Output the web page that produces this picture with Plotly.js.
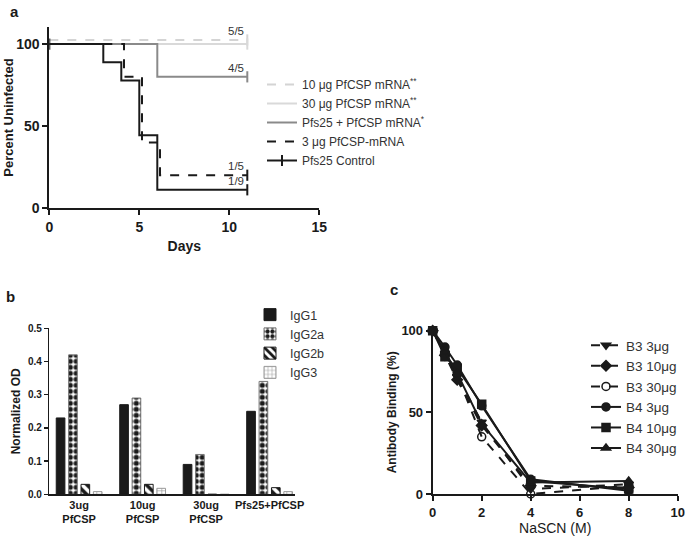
<!DOCTYPE html>
<html>
<head>
<meta charset="utf-8">
<script src="https://cdn.plot.ly/plotly-3.0.1.min.js"></script>
<style>
  html, body { margin: 0; padding: 0; background: #fff; }
  #fig { width: 685px; height: 538px; }
</style>
</head>
<body>
<div id="fig"></div>
<script>
// ---- panel a: survival curves (percent uninfected vs days)
const daysFlat = [0, 11];
const pct10ug = [102.5, 102.5];
const pct30ug = [100, 100];
const daysCombo = [0, 6, 11];
const pctCombo = [100, 80, 80];
const days3ug = [0, 4.15, 5.15, 6.15, 11];
const pct3ug = [100, 80, 40, 20, 20];
const daysCtrl = [0, 3, 4, 5, 6, 11];
const pctCtrl = [100, 88.9, 77.8, 44.4, 11.1, 11.1];
const fractionLabels = ["5/5", "4/5", "1/5", "1/9"];

// ---- panel b: IgG subclasses
const groups = ["3ug<br>PfCSP", "10ug<br>PfCSP", "30ug<br>PfCSP", "Pfs25+PfCSP"];
const igg1 = [0.23, 0.27, 0.09, 0.25];
const igg2a = [0.42, 0.29, 0.12, 0.34];
const igg2b = [0.03, 0.03, 0, 0.02];
const igg3 = [0.008, 0.018, 0, 0.008];

// ---- panel c: NaSCN avidity
const nascn = [0, 0.5, 1, 2, 4, 8];
const b3_3 = [100, 86, 72, 44, 3, 6];
const b3_10 = [100, 85, 70, 42, 5, 4];
const b3_30 = [100, 87, 73, 35, 0, 5];
const b4_3 = [100, 90, 79, 54, 9, 2];
const b4_10 = [100, 84, 77, 55, 8, 3];
const b4_30 = [100, 87, 74, 43, 7, 8];

const FONT = "Liberation Sans, Arial, sans-serif";
const INK = "#1a1a1a";
const CLEAR = "rgba(0,0,0,0)";

const last = (a) => a[a.length - 1];

function survival(x, y, name, color, dash) {
  return {
    x: x, y: y, name: name,
    xaxis: "x", yaxis: "y", legend: "legend",
    mode: "lines",
    line: { shape: "hv", color: color, width: 2, dash: dash },
  };
}

// censor ticks at the end of every curve
const curvesA = [
  [daysFlat, pct10ug, "#d4d4d4"],
  [daysFlat, pct30ug, "#d9d9d9"],
  [daysCombo, pctCombo, "#8a8a8a"],
  [days3ug, pct3ug, INK],
  [daysCtrl, pctCtrl, INK],
];

// control: tick only shows in the legend (first point sits on the y axis line)
const ctrlTickColors = daysCtrl.map((d, i) => (i === 0 ? INK : CLEAR));

const traceA = [
  survival(daysFlat, pct10ug, "10 μg PfCSP mRNA<sup>**</sup>", "#d4d4d4", "dash"),
  survival(daysFlat, pct30ug, "30 μg PfCSP mRNA<sup>**</sup>", "#d9d9d9", "solid"),
  survival(daysCombo, pctCombo, "Pfs25 + PfCSP mRNA<sup>*</sup>", "#8a8a8a", "solid"),
  survival(days3ug, pct3ug, "3 μg PfCSP-mRNA", INK, "dash"),
  Object.assign(survival(daysCtrl, pctCtrl, "Pfs25 Control", INK, "solid"), {
    mode: "lines+markers",
    marker: { symbol: "line-ns", size: 8, line: { color: ctrlTickColors, width: 2 } },
  }),
  {
    x: curvesA.map((c) => last(c[0])), y: curvesA.map((c) => last(c[1])),
    xaxis: "x", yaxis: "y", showlegend: false, mode: "markers", cliponaxis: false,
    marker: { symbol: "line-ns", size: 8, line: { color: curvesA.map((c) => c[2]), width: 2 } },
  },
];

function bar(y, name, pattern, lineColor) {
  return {
    type: "bar", x: groups, y: y, name: name,
    xaxis: "x2", yaxis: "y2", legend: "legend2",
    marker: { color: "white", pattern: pattern, line: { color: lineColor, width: 1 } },
  };
}

const traceB = [
  bar(igg1, "IgG1", { shape: "" }, INK),
  bar(igg2a, "IgG2a", { shape: ".", fgcolor: INK, bgcolor: "white", size: 6, solidity: 0.6 }, "#777"),
  bar(igg2b, "IgG2b", { shape: "\\", fgcolor: INK, bgcolor: "white", size: 7, solidity: 0.5 }, INK),
  bar(igg3, "IgG3", { shape: "+", fgcolor: "#999", bgcolor: "white", size: 5, solidity: 0.25 }, "#999"),
];
traceB[0].marker.color = INK;

function avidity(y, name, symbol, dash) {
  return {
    x: nascn, y: y, name: name,
    xaxis: "x3", yaxis: "y3", legend: "legend3",
    mode: "lines+markers",
    line: { color: INK, width: 2, dash: dash },
    marker: { symbol: symbol, size: 8, color: INK, line: { color: INK, width: 1.5 } },
    cliponaxis: false,
  };
}

const traceC = [
  avidity(b3_3, "B3 3μg", "triangle-down", "dash"),
  avidity(b3_10, "B3 10μg", "diamond", "dash"),
  avidity(b3_30, "B3 30μg", "circle-open", "dash"),
  avidity(b4_3, "B4 3μg", "circle", "solid"),
  avidity(b4_10, "B4 10μg", "square", "solid"),
  avidity(b4_30, "B4 30μg", "triangle-up", "solid"),
];

const axisBase = {
  showgrid: false, zeroline: false, showline: true,
  linecolor: INK, linewidth: 2, ticks: "outside", tickcolor: INK,
  ticklen: 5, tickwidth: 2,
};

const fracAnn = curvesA.filter((c, i) => i !== 1).map((c, i) => ({
  x: last(c[0]), y: last(c[1]), xref: "x", yref: "y", text: fractionLabels[i],
  showarrow: false, xanchor: "right", yanchor: "bottom", xshift: -1, yshift: 1,
  font: { size: 11.5, color: "#333" },
}));

const panelAnn = [["a", 14, 12], ["b", 10, 297], ["c", 394, 289]].map((p) => ({
  text: p[0], x: p[1] / 685, y: 1 - p[2] / 538, xref: "paper", yref: "paper",
  showarrow: false, xanchor: "center", yanchor: "middle",
  font: { size: 15, weight: "bold", color: INK },
}));

const layout = {
  width: 685, height: 538,
  margin: { l: 0, r: 0, t: 0, b: 0 },
  paper_bgcolor: "white", plot_bgcolor: "rgba(0,0,0,0)",
  font: { family: FONT, color: INK },
  barmode: "group", bargap: 0.22, bargroupgap: 0.3,
  xaxis: Object.assign({}, axisBase, {
    anchor: "y",
    domain: [49.3 / 685, 319.3 / 685], range: [0, 15], tickvals: [0, 5, 10, 15],
    tickfont: { size: 14, weight: "bold" },
    title: { text: "Days", font: { size: 14, weight: "bold" }, standoff: 7 },
  }),
  yaxis: Object.assign({}, axisBase, {
    anchor: "x",
    domain: [1 - 208 / 538, 1 - 27 / 538], range: [0, 110.4], tickvals: [0, 50, 100],
    tickfont: { size: 14, weight: "bold" },
    title: { text: "Percent Uninfected", font: { size: 13, weight: "bold" }, standoff: 0 },
  }),
  xaxis2: Object.assign({}, axisBase, {
    anchor: "y2",
    domain: [49.3 / 685, 295 / 685], range: [-0.47, 3.4], ticks: "", linewidth: 1.5,
    tickfont: { size: 11, weight: "bold" },
  }),
  yaxis2: Object.assign({}, axisBase, {
    anchor: "x2",
    domain: [1 - 494.3 / 538, 1 - 328.3 / 538], range: [0, 0.5], dtick: 0.1, tickformat: ".1f",
    linewidth: 1.5, tickwidth: 1.5, ticklen: 4,
    tickfont: { size: 10, weight: "bold" },
    title: { text: "Normalized OD", font: { size: 12, weight: "bold" }, standoff: 4 },
  }),
  xaxis3: Object.assign({}, axisBase, {
    anchor: "y3",
    domain: [432.7 / 685, 677.7 / 685], range: [0, 10], dtick: 2,
    tickfont: { size: 13, weight: "bold" },
    title: { text: "NaSCN (M)", font: { size: 14 }, standoff: 4 },
  }),
  yaxis3: Object.assign({}, axisBase, {
    anchor: "x3",
    domain: [1 - 494 / 538, 1 - 330.7 / 538], range: [0, 100], tickvals: [0, 50, 100],
    tickfont: { size: 13, weight: "bold" },
    title: { text: "Antibody Binding (%)", font: { size: 12, weight: "bold" }, standoff: 2 },
  }),
  legend: {
    x: 262 / 685, y: 1 - 70 / 538, xanchor: "left", yanchor: "top",
    font: { size: 12, color: "#333" }, bgcolor: "rgba(0,0,0,0)", itemwidth: 30,
  },
  legend2: {
    x: 250 / 685, y: 1 - 300 / 538, xanchor: "left", yanchor: "top",
    font: { size: 12.5, color: "#333" }, bgcolor: "rgba(0,0,0,0)", itemwidth: 30,
  },
  legend3: {
    x: 586 / 685, y: 1 - 330 / 538, xanchor: "left", yanchor: "top",
    font: { size: 13.5, color: "#333" }, bgcolor: "rgba(0,0,0,0)", itemwidth: 30,
  },
  annotations: fracAnn.concat(panelAnn),
};

Plotly.newPlot("fig", traceA.concat(traceB, traceC), layout, { staticPlot: true });
</script>
</body>
</html>
